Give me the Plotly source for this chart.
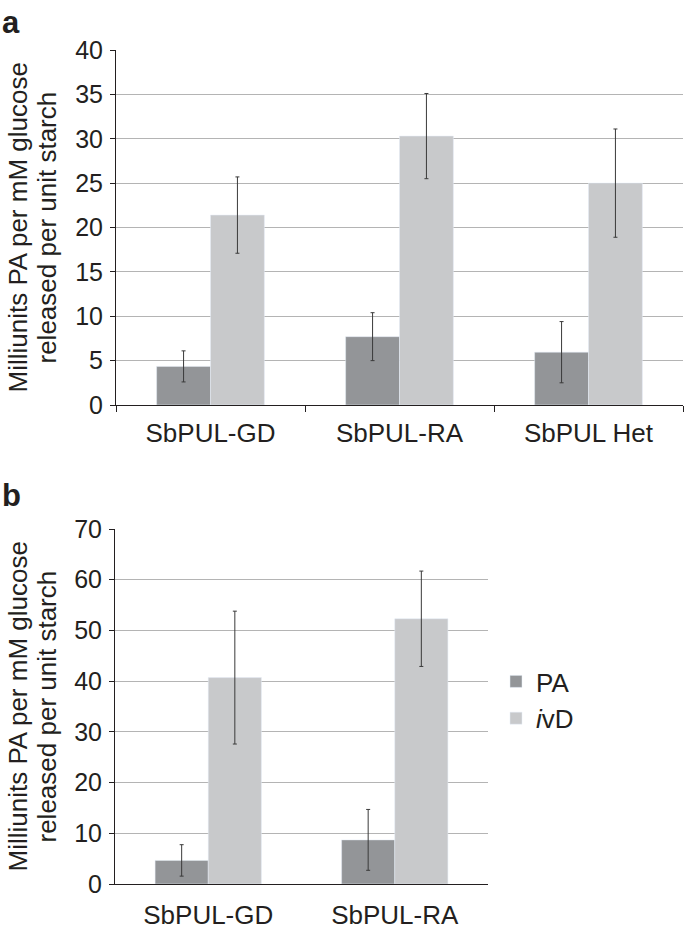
import plotly.graph_objects as go

# panel a
cats_a = ['SbPUL-GD', 'SbPUL-RA', 'SbPUL Het']
pa_a = [4.35, 7.7, 5.95]
pa_a_err = [1.75, 2.7, 3.45]
ivd_a = [21.4, 30.3, 25.0]
ivd_a_err = [4.3, 4.8, 6.1]

# panel b
cats_b = ['SbPUL-GD', 'SbPUL-RA']
pa_b = [4.65, 8.7]
pa_b_err = [3.1, 6.0]
ivd_b = [40.7, 52.3]
ivd_b_err = [13.1, 9.4]

PA_COL = '#939598'
IVD_COL = '#c8c9cb'
TXT = '#231f20'
FONT = 'Liberation Sans, Arial, sans-serif'

fig = go.Figure()


def err(vals):
    return dict(type='data', array=vals, color='#3a3a3a', thickness=1, width=2)


fig.add_trace(go.Bar(x=cats_a, y=pa_a, error_y=err(pa_a_err), marker_color=PA_COL,
                     name='PA', legendgroup='pa', showlegend=False, xaxis='x', yaxis='y'))
fig.add_trace(go.Bar(x=cats_a, y=ivd_a, error_y=err(ivd_a_err), marker_color=IVD_COL,
                     name='<i>i</i>vD', legendgroup='ivd', showlegend=False, xaxis='x', yaxis='y'))
fig.add_trace(go.Bar(x=cats_b, y=pa_b, error_y=err(pa_b_err), marker_color=PA_COL,
                     name='PA', legendgroup='pa', xaxis='x2', yaxis='y2'))
fig.add_trace(go.Bar(x=cats_b, y=ivd_b, error_y=err(ivd_b_err), marker_color=IVD_COL,
                     name='<i>i</i>vD', legendgroup='ivd', xaxis='x2', yaxis='y2'))

W, H = 685, 931

yax = dict(showgrid=True, gridcolor='#b4b4b4', gridwidth=1.2, showline=True, linecolor=TXT,
           linewidth=1, ticks='outside', ticklen=5, tickcolor=TXT, zeroline=False,
           tickfont=dict(size=25, color=TXT), ticklabelstandoff=2, automargin=False)
xax = dict(showline=True, linecolor=TXT, linewidth=1.2, tickfont=dict(size=26, color=TXT),
           showgrid=False, automargin=False)

fig.update_layout(
    width=W, height=H,
    margin=dict(l=0, r=0, t=0, b=0, autoexpand=False),
    paper_bgcolor='white', plot_bgcolor='white',
    font=dict(family=FONT, color=TXT),
    barmode='group', bargap=0.43, bargroupgap=0,
    xaxis=dict(xax, domain=[116 / W, 683 / W], anchor='y', ticks='outside',
               tickson='boundaries', ticklen=6, tickcolor=TXT, ticklabelstandoff=5),
    yaxis=dict(yax, domain=[1 - 405 / H, 1 - 50 / H], range=[0, 40], dtick=5, anchor='x'),
    xaxis2=dict(xax, domain=[115 / W, 488 / W], anchor='y2', ticks='', ticklabelstandoff=8),
    yaxis2=dict(yax, domain=[1 - 884 / H, 1 - 529 / H], range=[0, 70], dtick=10, anchor='x2'),
    legend=dict(x=496 / W, y=1 - 658 / H, xanchor='left', yanchor='top',
                font=dict(size=26, color=TXT), bgcolor='rgba(0,0,0,0)',
                tracegroupgap=0, itemwidth=30),
    showlegend=True,
)

title_lines = ['Milliunits PA per mM glucose', 'released per unit starch']
for yc in [(50 + 405) / 2, (529 + 884) / 2]:
    for xc, line in zip([17, 46], title_lines):
        fig.add_annotation(text=line, x=xc / W, y=1 - yc / H, xref='paper', yref='paper',
                           textangle=-90, showarrow=False, font=dict(size=26, color=TXT),
                           xanchor='center', yanchor='middle')

fig.add_annotation(text='<b>a</b>', x=0, y=1 - 3 / H, xref='paper', yref='paper',
                   showarrow=False, xanchor='left', yanchor='top', font=dict(size=31, color=TXT))
fig.add_annotation(text='<b>b</b>', x=0, y=1 - 476 / H, xref='paper', yref='paper',
                   showarrow=False, xanchor='left', yanchor='top', font=dict(size=31, color=TXT))

# page body has a default 8px margin; drop it so the figure sits at the window origin
fig.write_html('out.html', config={'displayModeBar': False},
               post_script="document.body.style.margin='0';")
